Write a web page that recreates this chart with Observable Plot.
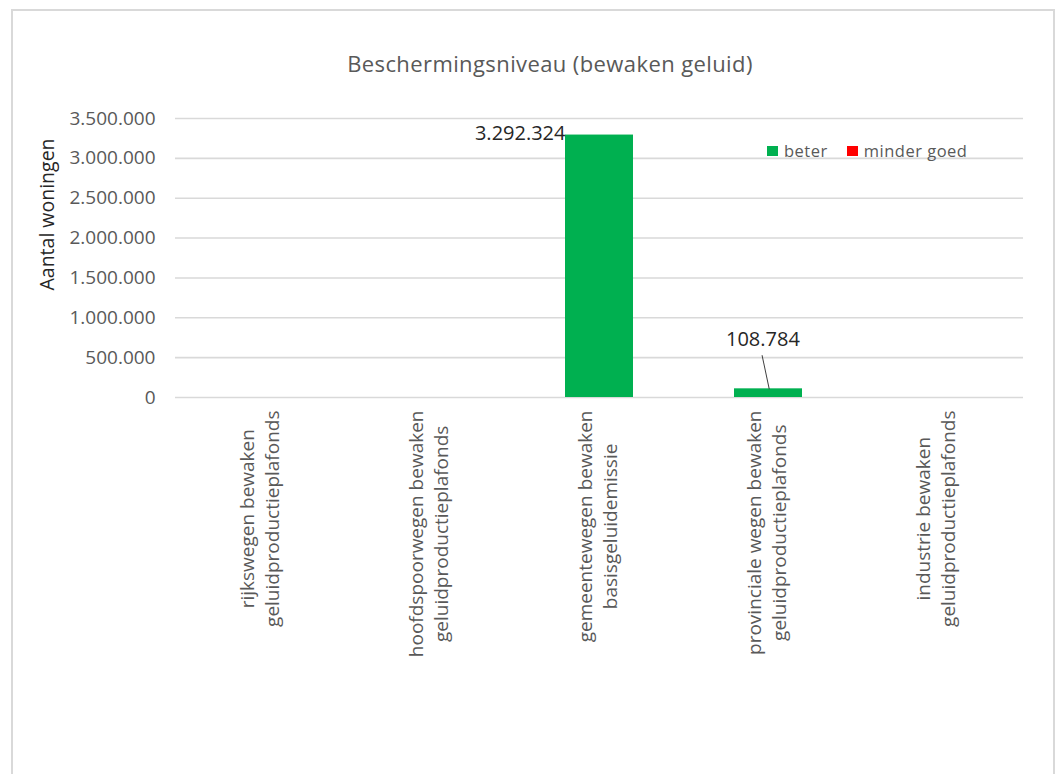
<!DOCTYPE html>
<html>
<head>
<meta charset="utf-8">
<script src="https://cdn.jsdelivr.net/npm/d3@7"></script>
<script src="https://cdn.jsdelivr.net/npm/@observablehq/plot@0.6"></script>
<style>
  html, body { margin: 0; padding: 0; background: #fff; }
  #wrap { position: relative; width: 1059px; height: 774px; overflow: hidden; font-family: "Open Sans", sans-serif; }
  #frame { position: absolute; left: 11px; top: 9px; width: 1044px; height: 820px; border: 2px solid #d9d9d9; box-sizing: border-box; }
  #title { position: absolute; left: 0; width: 1100px; top: 52px; text-align: center; font-size: 22px; line-height: 22px; letter-spacing: 0.4px; color: #595959; }
  #chart { position: absolute; left: 0; top: 0; }
  #legend { position: absolute; left: 767px; top: 140px; display: flex; align-items: center; font-size: 16.5px; color: #595959; letter-spacing: 0.5px; line-height: 22px; }
  #legend .sw { display: inline-block; width: 11px; height: 10px; margin-right: 6px; }
  #legend .item { display: flex; align-items: center; margin-right: 19px; }
</style>
</head>
<body>
<div id="wrap">
  <div id="frame"></div>
  <div id="chart"></div>
  <div id="title">Beschermingsniveau (bewaken geluid)</div>
  <div id="legend"></div>
</div>
<script>
// ---- data ----
const categories = [
  "rijkswegen bewaken\ngeluidproductieplafonds",
  "hoofdspoorwegen bewaken\ngeluidproductieplafonds",
  "gemeentewegen bewaken\nbasisgeluidemissie",
  "provinciale wegen bewaken\ngeluidproductieplafonds",
  "industrie bewaken\ngeluidproductieplafonds"
];
const seriesNames = ["beter", "minder goed"];
const seriesColors = ["#00b050", "#ff0000"];
const beter = [null, null, 3292324, 108784, null];
const minderGoed = [null, null, null, null, null];
const yTicks = [0, 500000, 1000000, 1500000, 2000000, 2500000, 3000000, 3500000];
const yTitle = "Aantal woningen";

// ---- build table ----
const rows = [];
categories.forEach((c, i) => {
  rows.push({cat: c, series: seriesNames[0], value: beter[i]});
  rows.push({cat: c, series: seriesNames[1], value: minderGoed[i]});
});
const valid = rows.filter(d => d.value != null);

const nl = d3.formatLocale({decimal: ",", thousands: ".", grouping: [3], currency: ["€", ""]});
const fmt = nl.format(",d");

// text measurement for centering two-line rotated labels
const ctx = document.createElement("canvas").getContext("2d");
ctx.font = "19px 'Open Sans'";
const maxLen = s => Math.max(...s.split("\n").map(l => ctx.measureText(l).width));

const color = {domain: seriesNames, range: seriesColors};

const xLabelMarks = categories.map(c => Plot.text([c], {
  x: d => d, frameAnchor: "bottom", rotate: -90,
  textAnchor: "middle", lineAnchor: "middle", lineHeight: 1.32,
  fontSize: 19, fill: "#595959", dx: -3, dy: 13 + maxLen(c) / 2
}));

const big = valid.filter(d => d.series === "beter" && d.value > 1000000);
const small = valid.filter(d => d.series === "beter" && d.value <= 1000000);

const chart = Plot.plot({
  width: 1059,
  height: 774,
  marginLeft: 175,
  marginRight: 36,
  marginTop: 118,
  marginBottom: 377,
  style: {fontFamily: "'Open Sans', sans-serif", color: "#595959", background: "transparent"},
  x: {domain: categories, paddingInner: 0.6, paddingOuter: 0.3, axis: null},
  y: {domain: [0, 3500000], axis: null},
  color,
  marks: [
    Plot.gridY(yTicks, {stroke: "#d9d9d9", strokeOpacity: 1, strokeWidth: 1.6}),
    Plot.axisY({ticks: yTicks, tickSize: 0, tickPadding: 20, tickFormat: fmt, fontSize: 19, label: null, fill: "#595959"}),
    Plot.text([yTitle], {frameAnchor: "top-left", rotate: -90, dx: -128, dy: 96, fontSize: 19.5, fill: "#262626", textAnchor: "middle", lineAnchor: "middle"}),
    Plot.barY(valid, {x: "cat", y: "value", fill: "series"}),
    Plot.text(big, {x: "cat", y: "value", text: d => fmt(d.value), textAnchor: "end", lineAnchor: "middle", dx: -34, dy: -1, fontSize: 20, fill: "#262626"}),
    Plot.text(small, {x: "cat", y: "value", text: d => fmt(d.value), textAnchor: "middle", lineAnchor: "middle", dx: -5.6, dy: -49, fontSize: 20, fill: "#262626"}),
    Plot.vector(small, {x: "cat", y: "value", length: 34, rotate: -12, anchor: "start", dx: 0.7, stroke: "#404040", strokeWidth: 1,
      shape: {draw(context, l) { context.moveTo(0, 0); context.lineTo(0, -l); }}}),
    ...xLabelMarks
  ]
});
document.getElementById("chart").appendChild(chart);

// legend
const legend = document.getElementById("legend");
seriesNames.forEach((s, i) => {
  const item = document.createElement("div");
  item.className = "item";
  const sw = document.createElement("span");
  sw.className = "sw";
  sw.style.background = seriesColors[i];
  item.appendChild(sw);
  item.appendChild(document.createTextNode(s));
  legend.appendChild(item);
});
</script>
</body>
</html>
